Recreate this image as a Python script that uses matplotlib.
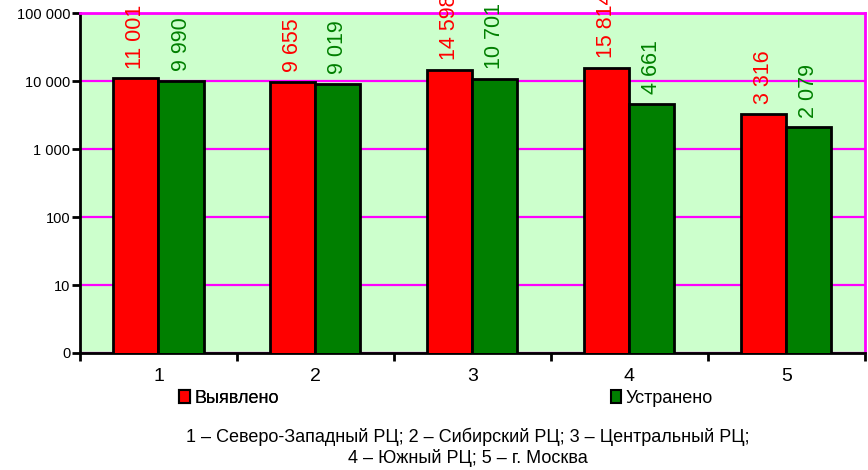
import matplotlib.pyplot as plt
from matplotlib.ticker import FixedLocator, FuncFormatter, NullFormatter
from matplotlib.patches import Patch
import numpy as np

plt.rcParams['font.family'] = ['Liberation Sans', 'DejaVu Sans']

# данные
regions = ['1', '2', '3', '4', '5']
found = [11001, 9655, 14598, 15814, 3316]
fixed = [9990, 9019, 10701, 4661, 2079]
found_labels = ['11 001', '9 655', '14 598', '15 814', '3 316']
fixed_labels = ['9 990', '9 019', '10 701', '4 661', '2 079']
series_names = ['Выявлено', 'Устранено']
caption = ('1 – Северо-Западный РЦ; 2 – Сибирский РЦ; 3 – Центральный РЦ;\n'
           '4 – Южный РЦ; 5 – г. Москва')

RED = '#ff0000'
GREEN = '#007f00'
MAGENTA = '#ff00ff'

fig = plt.figure(figsize=(8.68, 4.70), dpi=100)
ax = fig.add_axes([0.0922, 0.249, 0.904, 0.723])
ax.set_facecolor('#ccffcc')

x = np.arange(1, len(regions) + 1)
w = 0.287
b1 = ax.bar(x - w / 2, found, w, color=RED, edgecolor='black', linewidth=2, zorder=3)
b2 = ax.bar(x + w / 2, fixed, w, color=GREEN, edgecolor='black', linewidth=2, zorder=3)

ax.set_yscale('log')
ax.set_ylim(1, 100000)
ax.set_xlim(0.5, len(regions) + 0.5)

ax.yaxis.set_major_locator(FixedLocator([1, 10, 100, 1000, 10000, 100000]))
ax.yaxis.set_minor_locator(FixedLocator([]))
ax.yaxis.set_major_formatter(FuncFormatter(
    lambda v, p: '0' if v <= 1 else '{:,}'.format(int(round(v))).replace(',', ' ')))
ax.grid(axis='y', color=MAGENTA, linewidth=1.6, zorder=1)

ax.set_xticks(x)
ax.set_xticklabels(regions, fontsize=14)
ax.set_xticks(np.arange(0.5, len(regions) + 1), minor=True)
ax.xaxis.set_minor_formatter(NullFormatter())
ax.tick_params(axis='x', which='major', length=0, pad=11)
ax.tick_params(axis='x', which='minor', length=6, width=2, direction='out')
ax.tick_params(axis='y', length=6, width=2, direction='out', labelsize=10.5, pad=1)

ax.spines['left'].set_color('black')
ax.spines['left'].set_linewidth(2)
ax.spines['bottom'].set_color('black')
ax.spines['bottom'].set_linewidth(2)
ax.spines['top'].set_color(MAGENTA)
ax.spines['top'].set_linewidth(2)
ax.spines['right'].set_color(MAGENTA)
ax.spines['right'].set_linewidth(2)

# подписи значений над столбцами
for rects, labels, col in [(b1, found_labels, RED), (b2, fixed_labels, GREEN)]:
    for r, t in zip(rects, labels):
        ax.annotate(t, xy=(r.get_x() + r.get_width() / 2, r.get_height()),
                    xytext=(0, 7), textcoords='offset points',
                    rotation=90, ha='center', va='bottom',
                    fontsize=15.5, color=col, annotation_clip=False)

h1 = Patch(facecolor=RED, edgecolor='black', linewidth=1.5)
h2 = Patch(facecolor=GREEN, edgecolor='black', linewidth=1.5)
leg_kw = dict(frameon=False, borderpad=0, handlelength=0.6, handleheight=0.75,
              handletextpad=0.25, fontsize=13, loc='center left')
l1 = fig.legend([h1], [series_names[0]], bbox_to_anchor=(0.196, 0.152), **leg_kw)
fig.add_artist(l1)
fig.legend([h2], [series_names[1]], bbox_to_anchor=(0.693, 0.152), **leg_kw)

fig.text(0.539, 0.049, caption, ha='center', va='center', fontsize=13, linespacing=1.2)

plt.savefig('out.png', dpi=100)
